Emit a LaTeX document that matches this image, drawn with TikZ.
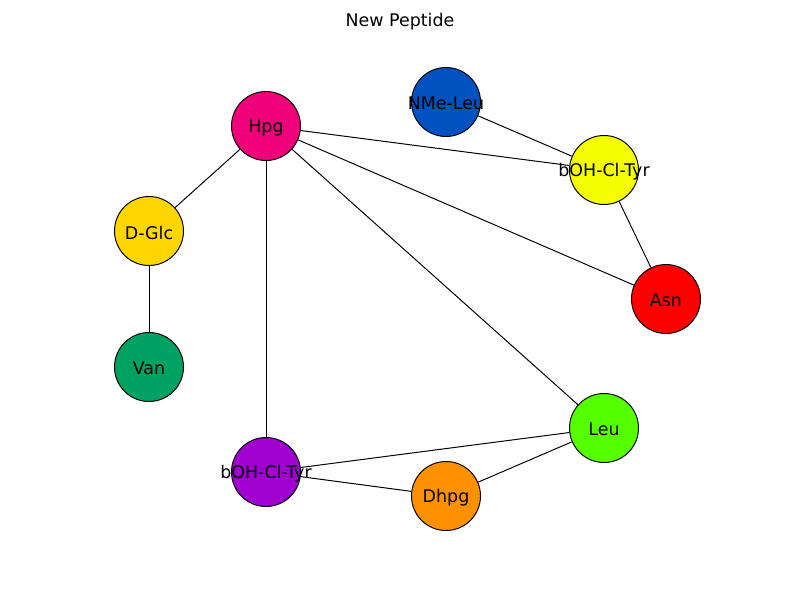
\documentclass[tikz,border=0pt]{standalone}
\usepackage{fontspec}
\setmainfont{DejaVu Sans}
\usepackage{tikz}
\usetikzlibrary{backgrounds}

\definecolor{cHpg}{RGB}{240,0,122}
\definecolor{cNMe}{RGB}{0,82,192}
\definecolor{cTyrA}{RGB}{245,255,0}
\definecolor{cGlc}{RGB}{255,214,0}
\definecolor{cAsn}{RGB}{255,0,0}
\definecolor{cVan}{RGB}{0,162,98}
\definecolor{cLeu}{RGB}{86,255,0}
\definecolor{cTyrB}{RGB}{160,0,208}
\definecolor{cDhpg}{RGB}{255,145,0}

\begin{document}
\begin{tikzpicture}[x=0.025cm,y=-0.025cm,
    pep/.style={circle,draw,line width=0.7pt,minimum size=69*0.025cm,inner sep=0pt,
      label={[yshift=-1.5*0.025cm]center:#1}},
    bond/.style={line width=0.7pt}]
      \fontsize{12.4}{14}\selectfont
      \useasboundingbox (0,0) rectangle (800,600);

      \node (title) at (400,21.5) {New Peptide};

      % residues
      \node[pep=Hpg,fill=cHpg] (hpg) at (266,126) {};
      \node[pep=NMe-Leu,fill=cNMe] (nmeleu) at (446,102) {};
      \node[pep=bOH-Cl-Tyr,fill=cTyrA] (tyrA) at (604,170) {};
      \node[pep=D-Glc,fill=cGlc] (glc) at (149,231) {};
      \node[pep=Asn,fill=cAsn] (asn) at (666,299) {};
      \node[pep=Van,fill=cVan] (van) at (149,367) {};
      \node[pep=Leu,fill=cLeu] (leu) at (604,428) {};
      \node[pep=bOH-Cl-Tyr,fill=cTyrB] (tyrB) at (266,472) {};
      \node[pep=Dhpg,fill=cDhpg] (dhpg) at (446,496) {};

      % bonds, behind the circles
      \begin{pgfonlayer}{background}
        \draw[bond] (hpg) -- (tyrA);
        \draw[bond] (hpg) -- (asn);
        \draw[bond] (hpg) -- (leu);
        \draw[bond] (hpg) -- (glc);
        \draw[bond] (hpg) -- (tyrB);
        \draw[bond] (nmeleu) -- (tyrA);
        \draw[bond] (tyrA) -- (asn);
        \draw[bond] (glc) -- (van);
        \draw[bond] (tyrB) -- (leu);
        \draw[bond] (tyrB) -- (dhpg);
        \draw[bond] (dhpg) -- (leu);
      \end{pgfonlayer}

    \end{tikzpicture}
\end{document}
